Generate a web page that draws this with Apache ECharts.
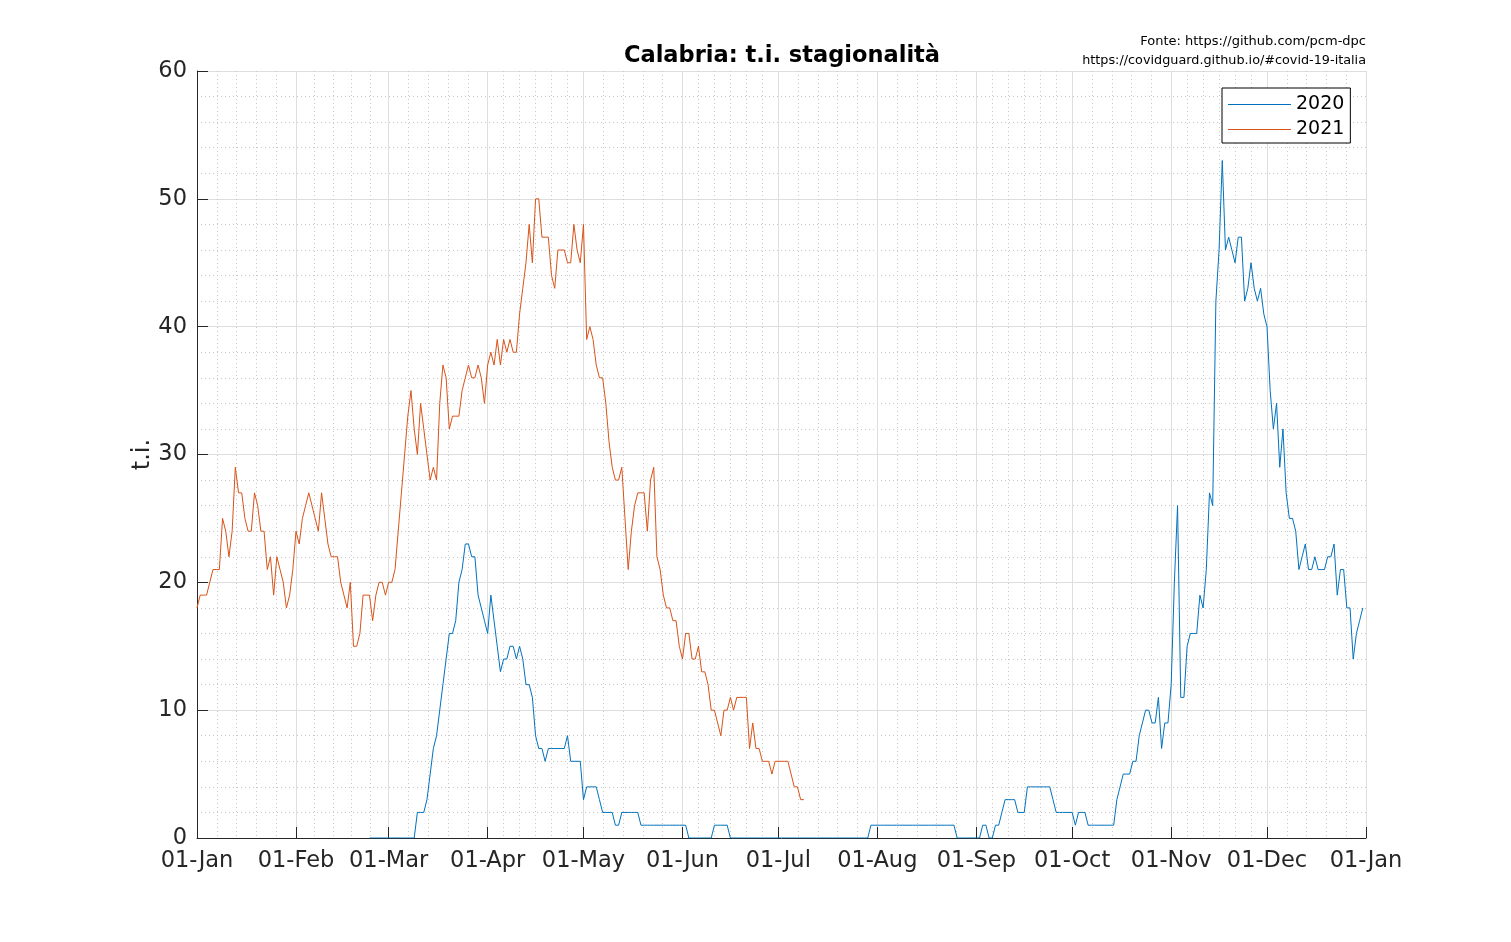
<!DOCTYPE html>
<html>
<head>
<meta charset="utf-8">
<title>Calabria: t.i. stagionalità</title>
<script src="https://cdn.jsdelivr.net/npm/echarts@6/dist/echarts.min.js"></script>
<style>
  html, body { margin: 0; padding: 0; background: #fff; }
  #chart { width: 1511px; height: 942px; }
</style>
</head>
<body>
<div id="chart"></div>
<script>
// x axis = day of year (leap year axis, 01-Jan .. 01-Jan)
var monthStarts = [0, 31, 60, 91, 121, 152, 182, 213, 244, 274, 305, 335, 366];
var monthLabels = ['01-Jan', '01-Feb', '01-Mar', '01-Apr', '01-May', '01-Jun',
	'01-Jul', '01-Aug', '01-Sep', '01-Oct', '01-Nov', '01-Dec', '01-Jan'];

// terapia intensiva 2020, first value = 24-Feb (day 54)
var start2020 = 54;
var ti2020 = [
	0, 0, 0, 0, 0, 0,
	0, 0, 0, 0, 0, 0, 0, 0, 0, 2, 2, 2, 3, 5, 7, 8, 10, 12, 14, 16, 16, 17, 20, 21, 23, 23, 22, 22, 19, 18, 17,
	16, 19, 17, 15, 13, 14, 14, 15, 15, 14, 15, 14, 12, 12, 11, 8, 7, 7, 6, 7, 7, 7, 7, 7, 7, 8, 6, 6, 6, 6,
	3, 4, 4, 4, 4, 3, 2, 2, 2, 2, 1, 1, 2, 2, 2, 2, 2, 2, 1, 1, 1, 1, 1, 1, 1, 1, 1, 1, 1, 1, 1,
	1, 1, 0, 0, 0, 0, 0, 0, 0, 0, 1, 1, 1, 1, 1, 0, 0, 0, 0, 0, 0, 0, 0, 0, 0, 0, 0, 0, 0, 0,
	0, 0, 0, 0, 0, 0, 0, 0, 0, 0, 0, 0, 0, 0, 0, 0, 0, 0, 0, 0, 0, 0, 0, 0, 0, 0, 0, 0, 0, 1, 1,
	1, 1, 1, 1, 1, 1, 1, 1, 1, 1, 1, 1, 1, 1, 1, 1, 1, 1, 1, 1, 1, 1, 1, 1, 1, 0, 0, 0, 0, 0, 0,
	0, 0, 1, 1, 0, 0, 1, 1, 2, 3, 3, 3, 3, 2, 2, 2, 4, 4, 4, 4, 4, 4, 4, 4, 3, 2, 2, 2, 2, 2,
	2, 1, 2, 2, 2, 1, 1, 1, 1, 1, 1, 1, 1, 1, 3, 4, 5, 5, 5, 6, 6, 8, 9, 10, 10, 9, 9, 11, 7, 9, 9,
	12, 20, 26, 11, 11, 15, 16, 16, 16, 19, 18, 21, 27, 26, 42, 46, 53, 46, 47, 46, 45, 47, 47, 42, 43, 45, 43, 42, 43, 41,
	40, 35, 32, 34, 29, 32, 27, 25, 25, 24, 21, 22, 23, 21, 21, 22, 21, 21, 21, 22, 22, 23, 19, 21, 21, 18, 18, 14, 16, 17, 18
];

// terapia intensiva 2021, first value = 01-Jan (day 0)
var start2021 = 0;
var ti2021 = [
	18, 19, 19, 19, 20, 21, 21, 21, 25, 24, 22, 24, 29, 27, 27, 25, 24, 24, 27, 26, 24, 24, 21, 22, 19, 22, 21, 20, 18, 19, 21,
	24, 23, 25, 26, 27, 26, 25, 24, 27, 25, 23, 22, 22, 22, 20, 19, 18, 20, 15, 15, 16, 19, 19, 19, 17, 19, 20, 20, 19,
	20, 20, 21, 24, 27, 30, 33, 35, 32, 30, 34, 32, 30, 28, 29, 28, 34, 37, 36, 32, 33, 33, 33, 35, 36, 37, 36, 36, 37, 36, 34,
	37, 38, 37, 39, 37, 39, 38, 39, 38, 38, 41, 43, 45, 48, 45, 50, 50, 47, 47, 47, 44, 43, 46, 46, 46, 45, 45, 48, 46, 45,
	48, 39, 40, 39, 37, 36, 36, 34, 31, 29, 28, 28, 29, 25, 21, 24, 26, 27, 27, 27, 24, 28, 29, 22, 21, 19, 18, 18, 17, 17, 15,
	14, 16, 16, 14, 14, 15, 13, 13, 12, 10, 10, 9, 8, 10, 10, 11, 10, 11, 11, 11, 11, 7, 9, 7, 7, 6, 6, 6, 5, 6,
	6, 6, 6, 6, 5, 4, 4, 3, 3
];

var yTicks = [0, 10, 20, 30, 40, 50, 60];

var textColor = '#262626';
var gridColor = '#dedede';
var minorColor = '#c8c8c8';

// minor grid: months of 30 days split in 6, the others in 5
var minorTicks = [];
for (var i = 0; i < monthStarts.length - 1; i++) {
	var len = monthStarts[i + 1] - monthStarts[i];
	var parts = (len % 5 === 0) ? len / 5 : 5;
	for (var k = 1; k < parts; k++) {
		minorTicks.push(monthStarts[i] + k * len / parts);
	}
}

function toPoints(startDay, values) {
	var pts = [];
	for (var j = 0; j < values.length; j++) {
		pts.push([startDay + j, values[j]]);
	}
	return pts;
}

var chart = echarts.init(document.getElementById('chart'));

var option = {
	backgroundColor: '#ffffff',
	animation: false,
	textStyle: { fontFamily: 'DejaVu Sans' },
	title: {
		text: 'Calabria: t.i. stagionalità',
		left: 777,
		textAlign: 'center',
		top: 40,
		textStyle: { fontSize: 22.5, fontWeight: 'bold', color: '#000', fontFamily: 'DejaVu Sans' }
	},
	graphic: [
		{
			type: 'text', right: 145, top: 35,
			style: { text: 'Fonte: https://github.com/pcm-dpc', fontSize: 13, fill: '#000', fontFamily: 'DejaVu Sans', textAlign: 'right' }
		},
		{
			type: 'text', right: 145, top: 54,
			style: { text: 'https://covidguard.github.io/#covid-19-italia', fontSize: 12.8, fill: '#000', fontFamily: 'DejaVu Sans', textAlign: 'right' }
		}
	],
	legend: {
		orient: 'vertical',
		left: 1222,
		top: 88,
		padding: [4, 6, 1, 6],
		itemGap: 0,
		itemWidth: 63,
		itemHeight: 1,
		icon: 'rect',
		backgroundColor: '#fff',
		borderColor: '#000',
		borderWidth: 1,
		borderRadius: 0,
		textStyle: { fontSize: 19, color: '#000', lineHeight: 25, fontFamily: 'DejaVu Sans' },
		data: ['2020', '2021']
	},
	grid: { left: 197, top: 71, width: 1169, height: 767, containLabel: false },
	xAxis: [
		{
			type: 'value',
			min: 0,
			max: 366,
			position: 'bottom',
			axisLine: { show: true, onZero: false, lineStyle: { color: textColor, width: 1 } },
			axisTick: { show: true, inside: true, length: 11, customValues: monthStarts, lineStyle: { color: textColor } },
			axisLabel: {
				customValues: monthStarts,
				color: textColor,
				fontSize: 22.5,
				margin: 12,
				formatter: function(v) {
					var idx = monthStarts.indexOf(v);
					return idx >= 0 ? monthLabels[idx] : '';
				}
			},
			splitLine: { show: true, lineStyle: { color: gridColor, width: 1 } }
		},
		{
			// only the dotted minor grid
			type: 'value',
			min: 0,
			max: 366,
			position: 'bottom',
			axisLine: { show: false },
			axisTick: { show: true, length: 0, customValues: minorTicks },
			axisLabel: { show: false },
			splitLine: { show: true, lineStyle: { color: minorColor, width: 1, type: [1, 3] } }
		}
	],
	yAxis: {
		type: 'value',
		min: 0,
		max: 60,
		interval: 10,
		name: 't.i.',
		nameLocation: 'middle',
		nameRotate: 90,
		nameGap: 42,
		nameMoveOverlap: false,
		nameTextStyle: { fontSize: 24, color: textColor },
		axisLine: { show: true, lineStyle: { color: textColor, width: 1 } },
		axisTick: { show: true, inside: true, length: 11, lineStyle: { color: textColor } },
		axisLabel: {
			color: textColor, fontSize: 22.5, margin: 10,
			formatter: function(v) { return yTicks.indexOf(v) >= 0 ? String(v) : ''; }
		},
		splitLine: { show: true, lineStyle: { color: gridColor, width: 1 } },
		minorTick: { show: false, splitNumber: 5 },
		minorSplitLine: { show: true, lineStyle: { color: minorColor, width: 1, type: [1, 3] } }
	},
	series: [
		{
			name: '2020',
			type: 'line',
			xAxisIndex: 0,
			symbol: 'none',
			color: '#0072BD',
			lineStyle: { width: 1, color: '#0072BD' },
			data: toPoints(start2020, ti2020)
		},
		{
			name: '2021',
			type: 'line',
			xAxisIndex: 0,
			symbol: 'none',
			color: '#D95319',
			lineStyle: { width: 1, color: '#D95319' },
			data: toPoints(start2021, ti2021)
		}
	]
};

chart.setOption(option);
</script>
</body>
</html>
